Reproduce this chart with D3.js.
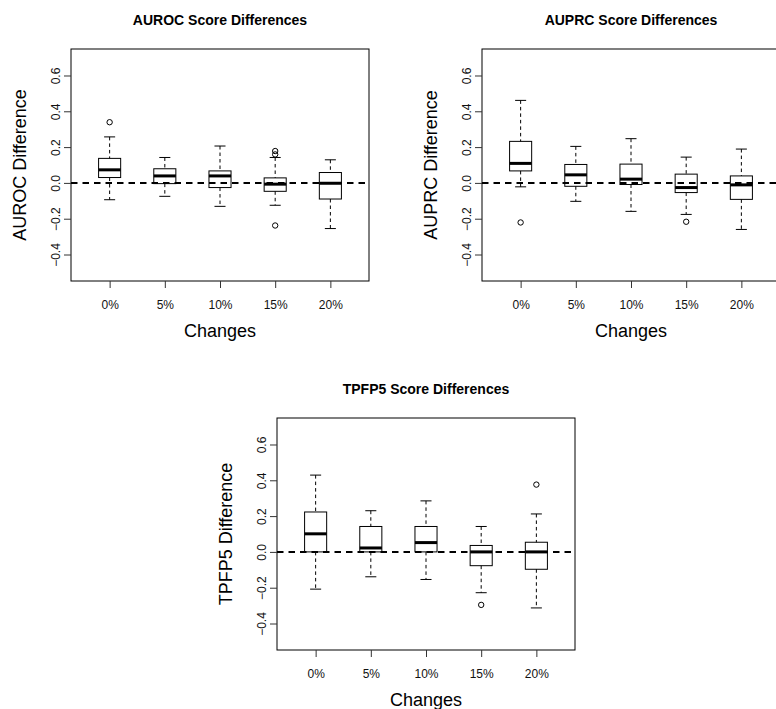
<!DOCTYPE html>
<html>
<head>
<meta charset="utf-8">
<script src="https://cdn.jsdelivr.net/npm/d3@7"></script>
<style>
  body { margin: 0; background: #fff; }
  svg { display: block; font-family: "Liberation Sans", Arial, sans-serif; }
</style>
</head>
<body>
<svg id="chart" width="776" height="709"></svg>
<script>
var categories = ['0%', '5%', '10%', '15%', '20%'];
var yTicks = [-0.4, -0.2, 0, 0.2, 0.4, 0.6];

// [lower whisker, q1, median, q3, upper whisker] per category
var aurocStats = [
  [-0.094, 0.030, 0.073, 0.137, 0.257],
  [-0.075, -0.004, 0.039, 0.079, 0.142],
  [-0.131, -0.026, 0.039, 0.067, 0.206],
  [-0.125, -0.047, -0.007, 0.028, 0.142],
  [-0.255, -0.090, -0.002, 0.058, 0.129]
];
var aurocOutliers = [[0.339], [], [], [0.178, 0.159, -0.238], []];

var auprcStats = [
  [-0.022, 0.067, 0.109, 0.232, 0.461],
  [-0.103, -0.019, 0.045, 0.103, 0.204],
  [-0.159, -0.009, 0.021, 0.105, 0.247],
  [-0.176, -0.054, -0.026, 0.049, 0.144],
  [-0.260, -0.092, -0.011, 0.039, 0.189]
];
var auprcOutliers = [[-0.221], [], [], [-0.217], []];

var tpfpStats = [
  [-0.208, 0.000, 0.101, 0.223, 0.429],
  [-0.139, 0.000, 0.022, 0.142, 0.230],
  [-0.154, 0.000, 0.052, 0.142, 0.285],
  [-0.228, -0.077, 0.000, 0.036, 0.142],
  [-0.313, -0.097, 0.000, 0.054, 0.212]
];
var tpfpOutliers = [[], [], [], [-0.296], [0.376]];

var svg = d3.select('#chart');
var plotW = 298, plotH = 232;
var fmt = d3.format('.1f');

function drawPanel(ox, oy, title, ylab, stats, outliers) {
  var g = svg.append('g').attr('transform', 'translate(' + (ox + 71) + ',' + (oy + 49) + ')');

  var x = d3.scaleLinear().domain([0.3, 5.7]).range([0, plotW]);
  var y = d3.scaleLinear().domain([-0.548, 0.748]).range([plotH, 0]);
  var boxW = x(1.4) - x(1);
  var capW = boxW / 2;

  var data = stats.map((s, i) => ({i: i + 1, lo: s[0], q1: s[1], med: s[2], q3: s[3], hi: s[4], out: outliers[i]}));

  var boxes = g.selectAll('g.box').data(data).enter().append('g').attr('class', 'box');

  // whiskers
  boxes.append('line')
    .attr('x1', (d) => x(d.i)).attr('x2', (d) => x(d.i))
    .attr('y1', (d) => y(d.hi)).attr('y2', (d) => y(d.q3))
    .attr('stroke', '#000').attr('stroke-dasharray', '3.5,3');
  boxes.append('line')
    .attr('x1', (d) => x(d.i)).attr('x2', (d) => x(d.i))
    .attr('y1', (d) => y(d.q1)).attr('y2', (d) => y(d.lo))
    .attr('stroke', '#000').attr('stroke-dasharray', '3.5,3');
  ['hi', 'lo'].forEach(function(k) {
    boxes.append('line')
      .attr('x1', (d) => x(d.i) - capW / 2).attr('x2', (d) => x(d.i) + capW / 2)
      .attr('y1', (d) => y(d[k])).attr('y2', (d) => y(d[k]))
      .attr('stroke', '#000');
  });

  boxes.append('rect')
    .attr('x', (d) => x(d.i) - boxW / 2)
    .attr('y', (d) => y(d.q3))
    .attr('width', boxW)
    .attr('height', (d) => y(d.q1) - y(d.q3))
    .attr('fill', 'none').attr('stroke', '#000');

  boxes.append('line')
    .attr('x1', (d) => x(d.i) - boxW / 2).attr('x2', (d) => x(d.i) + boxW / 2)
    .attr('y1', (d) => y(d.med)).attr('y2', (d) => y(d.med))
    .attr('stroke', '#000').attr('stroke-width', 3);

  boxes.selectAll('circle')
    .data((d) => d.out.map((v) => ({i: d.i, v: v})))
    .enter().append('circle')
    .attr('cx', (d) => x(d.i)).attr('cy', (d) => y(d.v)).attr('r', 2.7)
    .attr('fill', 'none').attr('stroke', '#000');

  // reference line at zero
  g.append('line')
    .attr('x1', 0).attr('x2', plotW)
    .attr('y1', y(0)).attr('y2', y(0))
    .attr('stroke', '#000').attr('stroke-width', 2).attr('stroke-dasharray', '6.5,5');

  // frame
  g.append('rect').attr('width', plotW).attr('height', plotH)
    .attr('fill', 'none').attr('stroke', '#000');

  // y axis
  var ya = g.append('g').call(d3.axisLeft(y).tickValues(yTicks).tickSize(7).tickFormat(fmt));
  ya.select('.domain').remove();
  ya.selectAll('.tick line').attr('stroke', '#333');
  ya.selectAll('.tick text')
    .attr('transform', 'rotate(-90)')
    .attr('x', 0).attr('y', -11.5).attr('dy', null)
    .attr('text-anchor', 'middle')
    .attr('font-size', 12).attr('font-family', null).attr('fill', '#111');

  // x axis
  var xa = g.append('g').attr('transform', 'translate(0,' + plotH + ')')
    .call(d3.axisBottom(x).tickValues([1, 2, 3, 4, 5]).tickSize(7).tickFormat((d) => categories[d - 1]));
  xa.select('.domain').remove();
  xa.selectAll('.tick line').attr('stroke', '#333');
  xa.selectAll('.tick text')
    .attr('y', 27.5).attr('dy', null)
    .attr('font-size', 12).attr('font-family', null).attr('fill', '#111');

  g.append('text')
    .attr('x', plotW / 2).attr('y', -24)
    .attr('text-anchor', 'middle')
    .attr('font-size', 14).attr('font-weight', 'bold')
    .text(title);

  g.append('text')
    .attr('x', plotW / 2).attr('y', plotH + 56)
    .attr('text-anchor', 'middle')
    .attr('font-size', 18)
    .text('Changes');

  g.append('text')
    .attr('transform', 'rotate(-90)')
    .attr('x', -plotH / 2).attr('y', -45)
    .attr('text-anchor', 'middle')
    .attr('font-size', 18)
    .text(ylab);
}

drawPanel(0, 0, 'AUROC Score Differences', 'AUROC Difference', aurocStats, aurocOutliers);
drawPanel(411, 0, 'AUPRC Score Differences', 'AUPRC Difference', auprcStats, auprcOutliers);
drawPanel(206, 369, 'TPFP5 Score Differences', 'TPFP5 Difference', tpfpStats, tpfpOutliers);
</script>
</body>
</html>
